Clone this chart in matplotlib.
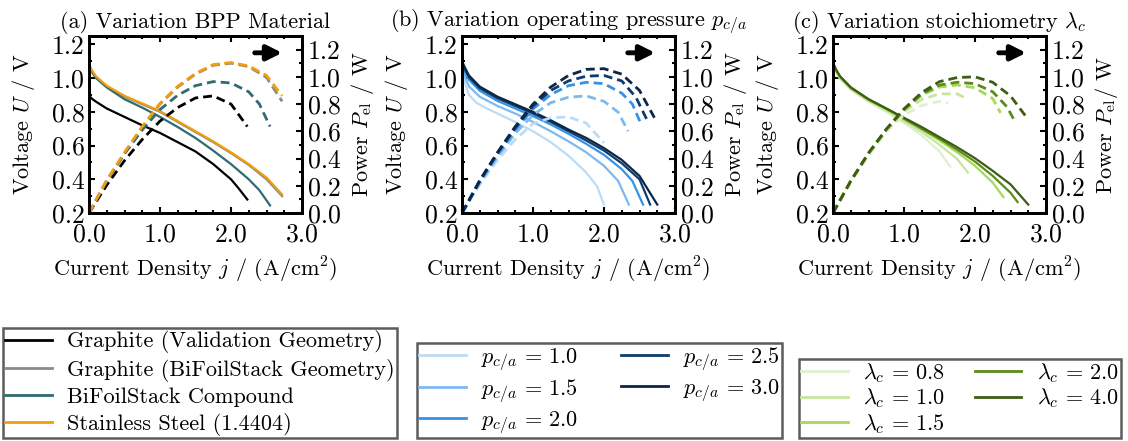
import numpy as np
import matplotlib
matplotlib.use("Agg")
import matplotlib.pyplot as plt
from matplotlib.ticker import MultipleLocator, FormatStrFormatter

plt.rcParams["font.family"] = "serif"
plt.rcParams["font.serif"] = ["cmr10", "DejaVu Serif"]
plt.rcParams["mathtext.fontset"] = "cm"
plt.rcParams["axes.formatter.use_mathtext"] = True

# ---- (a) BPP material ----
mat_labels = ["Graphite (Validation Geometry)", "Graphite (BiFoilStack Geometry)",
              "BiFoilStack Compound", "Stainless Steel (1.4404)"]
mat_colors = ["#000000", "#8a8a8a", "#2f6b70", "#f29e0c"]

j_gv = [0, 0.05, 0.1, 0.25, 0.5, 0.75, 1.0, 1.25, 1.5, 1.75, 2.0, 2.1, 2.23]
U_gv = [0.895, 0.875, 0.86, 0.82, 0.77, 0.72, 0.675, 0.62, 0.565, 0.49, 0.40, 0.35, 0.28]
jp_gv = [0, 0.25, 0.5, 0.75, 1.0, 1.25, 1.5, 1.75, 2.0, 2.23]
P_gv = [0, 0.205, 0.385, 0.54, 0.675, 0.775, 0.845, 0.86, 0.80, 0.635]

j_gb = [0, 0.05, 0.1, 0.25, 0.5, 0.75, 1.0, 1.25, 1.5, 1.75, 2.0, 2.25, 2.5, 2.72]
U_gb = [1.075, 1.035, 1.005, 0.95, 0.89, 0.845, 0.80, 0.74, 0.68, 0.62, 0.555, 0.485, 0.40, 0.30]
jp_gb = [0, 0.25, 0.5, 0.75, 1.0, 1.25, 1.5, 1.75, 2.0, 2.25, 2.5, 2.72]
P_gb = [0, 0.24, 0.44, 0.63, 0.80, 0.925, 1.02, 1.085, 1.10, 1.075, 0.995, 0.82]

j_bf = [0, 0.05, 0.1, 0.25, 0.5, 0.75, 1.0, 1.25, 1.5, 1.75, 2.0, 2.25, 2.4, 2.55]
U_bf = [1.07, 1.03, 1.0, 0.945, 0.875, 0.825, 0.77, 0.71, 0.645, 0.57, 0.49, 0.40, 0.335, 0.245]
jp_bf = [0, 0.25, 0.5, 0.75, 1.0, 1.25, 1.5, 1.75, 2.0, 2.25, 2.4, 2.55]
P_bf = [0, 0.235, 0.435, 0.61, 0.76, 0.865, 0.935, 0.965, 0.955, 0.89, 0.80, 0.635]

j_ss = [0, 0.05, 0.1, 0.25, 0.5, 0.75, 1.0, 1.25, 1.5, 1.75, 2.0, 2.25, 2.5, 2.72]
U_ss = [1.08, 1.04, 1.01, 0.955, 0.895, 0.85, 0.805, 0.745, 0.685, 0.625, 0.56, 0.49, 0.41, 0.31]
jp_ss = [0, 0.25, 0.5, 0.75, 1.0, 1.25, 1.5, 1.75, 2.0, 2.25, 2.5, 2.72]
P_ss = [0, 0.24, 0.445, 0.635, 0.805, 0.93, 1.025, 1.09, 1.105, 1.08, 1.01, 0.86]

# ---- (b) operating pressure ----
p_labels = [r"$p_{c/a} \,=\, 1.0$", r"$p_{c/a} \,=\, 1.5$", r"$p_{c/a} \,=\, 2.0$",
            r"$p_{c/a} \,=\, 2.5$", r"$p_{c/a} \,=\, 3.0$"]
p_colors = ["#bcdcf6", "#7db9ef", "#3592e6", "#0d3b6e", "#0a2748"]

j_p10 = [0, 0.05, 0.1, 0.2, 0.35, 0.5, 0.75, 1.0, 1.25, 1.5, 1.75, 1.9, 2.0]
U_p10 = [1.05, 0.96, 0.9, 0.855, 0.82, 0.79, 0.74, 0.685, 0.62, 0.54, 0.44, 0.36, 0.25]
jp_p10 = [0, 0.25, 0.5, 0.75, 1.0, 1.25, 1.5, 1.75, 2.0]
P_p10 = [0, 0.21, 0.39, 0.54, 0.655, 0.70, 0.705, 0.66, 0.515]

j_p15 = [0, 0.05, 0.1, 0.25, 0.5, 0.75, 1.0, 1.25, 1.5, 1.75, 2.0, 2.2, 2.35]
U_p15 = [1.07, 1.0, 0.95, 0.89, 0.835, 0.79, 0.74, 0.685, 0.625, 0.56, 0.48, 0.39, 0.25]
jp_p15 = [0, 0.25, 0.5, 0.75, 1.0, 1.25, 1.5, 1.75, 2.0, 2.2, 2.34]
P_p15 = [0, 0.22, 0.415, 0.585, 0.72, 0.81, 0.85, 0.86, 0.82, 0.74, 0.60]

j_p20 = [0, 0.05, 0.1, 0.25, 0.5, 0.75, 1.0, 1.25, 1.5, 1.75, 2.0, 2.25, 2.4, 2.55]
U_p20 = [1.08, 1.03, 0.99, 0.925, 0.865, 0.82, 0.775, 0.725, 0.67, 0.61, 0.545, 0.46, 0.39, 0.25]
jp_p20 = [0, 0.25, 0.5, 0.75, 1.0, 1.25, 1.5, 1.75, 2.0, 2.25, 2.4, 2.52]
P_p20 = [0, 0.23, 0.43, 0.61, 0.765, 0.87, 0.935, 0.96, 0.95, 0.88, 0.80, 0.655]

j_p25 = [0, 0.05, 0.1, 0.25, 0.5, 0.75, 1.0, 1.25, 1.5, 1.75, 2.0, 2.25, 2.5, 2.65]
U_p25 = [1.09, 1.045, 1.005, 0.94, 0.88, 0.835, 0.79, 0.74, 0.685, 0.63, 0.57, 0.495, 0.40, 0.25]
jp_p25 = [0, 0.25, 0.5, 0.75, 1.0, 1.25, 1.5, 1.75, 2.0, 2.25, 2.45, 2.6]
P_p25 = [0, 0.235, 0.44, 0.625, 0.785, 0.90, 0.97, 1.005, 1.01, 0.97, 0.85, 0.69]

j_p30 = [0, 0.05, 0.1, 0.25, 0.5, 0.75, 1.0, 1.25, 1.5, 1.75, 2.0, 2.25, 2.5, 2.75]
U_p30 = [1.10, 1.055, 1.015, 0.95, 0.89, 0.845, 0.80, 0.75, 0.695, 0.645, 0.585, 0.515, 0.42, 0.25]
jp_p30 = [0, 0.25, 0.5, 0.75, 1.0, 1.25, 1.5, 1.75, 2.0, 2.25, 2.5, 2.71]
P_p30 = [0, 0.24, 0.445, 0.635, 0.80, 0.925, 1.01, 1.055, 1.06, 1.02, 0.90, 0.70]

# ---- (c) stoichiometry ----
l_labels = [r"$\lambda_c \,=\, 0.8$", r"$\lambda_c \,=\, 1.0$", r"$\lambda_c \,=\, 1.5$",
            r"$\lambda_c \,=\, 2.0$", r"$\lambda_c \,=\, 4.0$"]
l_colors = ["#e0efcf", "#c6e59e", "#a6d95a", "#5b8c1a", "#3d5c15"]

j_l08 = [0, 0.05, 0.1, 0.25, 0.5, 0.75, 1.0, 1.25, 1.5, 1.65]
U_l08 = [1.08, 1.03, 0.995, 0.93, 0.86, 0.80, 0.735, 0.66, 0.565, 0.475]
jp_l08 = [0, 0.25, 0.5, 0.75, 1.0, 1.25, 1.5, 1.62]
P_l08 = [0, 0.23, 0.42, 0.595, 0.72, 0.79, 0.82, 0.81]

j_l10 = [0, 0.05, 0.1, 0.25, 0.5, 0.75, 1.0, 1.25, 1.5, 1.75, 1.9]
U_l10 = [1.085, 1.035, 1.0, 0.935, 0.865, 0.81, 0.745, 0.68, 0.605, 0.52, 0.44]
jp_l10 = [0, 0.25, 0.5, 0.75, 1.0, 1.25, 1.5, 1.75, 1.88]
P_l10 = [0, 0.235, 0.43, 0.605, 0.745, 0.835, 0.875, 0.875, 0.84]

j_l15 = [0, 0.05, 0.1, 0.25, 0.5, 0.75, 1.0, 1.25, 1.5, 1.75, 2.0, 2.25, 2.4]
U_l15 = [1.09, 1.04, 1.005, 0.94, 0.87, 0.815, 0.755, 0.695, 0.63, 0.56, 0.48, 0.38, 0.295]
jp_l15 = [0, 0.25, 0.5, 0.75, 1.0, 1.25, 1.5, 1.75, 2.0, 2.25, 2.36]
P_l15 = [0, 0.235, 0.435, 0.61, 0.755, 0.865, 0.925, 0.94, 0.92, 0.84, 0.735]

j_l20 = [0, 0.05, 0.1, 0.25, 0.5, 0.75, 1.0, 1.25, 1.5, 1.75, 2.0, 2.25, 2.5, 2.6]
U_l20 = [1.09, 1.045, 1.01, 0.945, 0.875, 0.82, 0.76, 0.70, 0.64, 0.575, 0.505, 0.42, 0.32, 0.265]
jp_l20 = [0, 0.25, 0.5, 0.75, 1.0, 1.25, 1.5, 1.75, 2.0, 2.25, 2.45, 2.57]
P_l20 = [0, 0.235, 0.44, 0.615, 0.76, 0.875, 0.94, 0.96, 0.95, 0.89, 0.78, 0.665]

j_l40 = [0, 0.05, 0.1, 0.25, 0.5, 0.75, 1.0, 1.25, 1.5, 1.75, 2.0, 2.25, 2.5, 2.75]
U_l40 = [1.09, 1.045, 1.01, 0.945, 0.875, 0.82, 0.765, 0.71, 0.65, 0.59, 0.525, 0.45, 0.37, 0.25]
jp_l40 = [0, 0.25, 0.5, 0.75, 1.0, 1.25, 1.5, 1.75, 2.0, 2.25, 2.5, 2.73]
P_l40 = [0, 0.235, 0.44, 0.615, 0.765, 0.885, 0.965, 0.995, 1.0, 0.96, 0.86, 0.70]

panels = [
    ("(a) Variation BPP Material", r"Power $P_\mathrm{el}$ / W", mat_labels, mat_colors,
     [(j_gv, U_gv, jp_gv, P_gv), (j_gb, U_gb, jp_gb, P_gb),
      (j_bf, U_bf, jp_bf, P_bf), (j_ss, U_ss, jp_ss, P_ss)]),
    (r"(b) Variation operating pressure $p_{c/a}$", r"Power $P_\mathrm{el}$ / W", p_labels, p_colors,
     [(j_p10, U_p10, jp_p10, P_p10), (j_p15, U_p15, jp_p15, P_p15), (j_p20, U_p20, jp_p20, P_p20),
      (j_p25, U_p25, jp_p25, P_p25), (j_p30, U_p30, jp_p30, P_p30)]),
    (r"(c) Variation stoichiometry $\lambda_c$", r"Power $P_\mathrm{el}$/ W", l_labels, l_colors,
     [(j_l08, U_l08, jp_l08, P_l08), (j_l10, U_l10, jp_l10, P_l10), (j_l15, U_l15, jp_l15, P_l15),
      (j_l20, U_l20, jp_l20, P_l20), (j_l40, U_l40, jp_l40, P_l40)]),
]

fig = plt.figure(figsize=(11.28, 4.41), dpi=100)
lefts = [89 / 1128, 462 / 1128, 833 / 1128]
leg_x = [3 / 1128, 417 / 1128, 799 / 1128]
leg_cols = [1, 2, 2]
col_space = [1.9, 1.9, 1.3]
row_space = [0.25, 0.2, 0.08]

for k, (title, plabel, labels, colors, curves) in enumerate(panels):
    ax = fig.add_axes([lefts[k], 228 / 441, 213 / 1128, 177 / 441])
    ax2 = ax.twinx()
    for (jj, uu, jpp, pp), lab, col in zip(curves, labels, colors):
        ax.plot(jj, uu, color=col, lw=1.6, label=lab)
        ax2.plot(jpp, pp, color=col, lw=2.0, ls=(0, (3.2, 1.8)))
    ax.set_xlim(0, 3.0)
    ax.set_ylim(0.2, 1.25)
    ax2.set_ylim(0, 1.3)
    ax.set_title(title, fontsize=16, pad=6)
    ax.set_xlabel(r"Current Density $j$ / (A/cm$^2$)", fontsize=16, labelpad=6)
    ax.set_ylabel(r"Voltage $U$ / V", fontsize=16, labelpad=11)
    ax2.set_ylabel(plabel, fontsize=16, labelpad=6)
    ax.xaxis.set_major_locator(MultipleLocator(1.0))
    ax.xaxis.set_minor_locator(MultipleLocator(0.25))
    ax.yaxis.set_major_locator(MultipleLocator(0.2))
    ax.yaxis.set_minor_locator(MultipleLocator(0.1))
    ax2.yaxis.set_major_locator(MultipleLocator(0.2))
    ax2.yaxis.set_minor_locator(MultipleLocator(0.1))
    for a in (ax, ax2):
        a.xaxis.set_major_formatter(FormatStrFormatter("%.1f"))
        a.yaxis.set_major_formatter(FormatStrFormatter("%.1f"))
        a.tick_params(which="both", direction="in", width=1.5, labelsize=18.5)
        a.tick_params(which="major", length=4.5)
        a.tick_params(which="minor", length=2.5)
        for s in a.spines.values():
            s.set_linewidth(2.0)
    ax.tick_params(which="both", top=True, right=False)
    ax.tick_params(axis="x", pad=7)
    ax.tick_params(axis="y", pad=3)
    ax2.tick_params(axis="y", pad=4)
    ax.annotate("", xy=(0.92, 0.905), xytext=(0.765, 0.905), xycoords="axes fraction",
                arrowprops=dict(arrowstyle="-|>,head_width=0.45,head_length=0.9",
                                lw=3.5, color="k"))
    h, l = ax.get_legend_handles_labels()
    leg = fig.legend(h, l, loc="lower left", bbox_to_anchor=(leg_x[k], 0.007),
                     ncol=leg_cols[k], fontsize=16, frameon=True, fancybox=False,
                     borderaxespad=0, borderpad=0.1, labelspacing=row_space[k],
                     handlelength=2.1, handletextpad=0.7, columnspacing=col_space[k])
    leg.get_frame().set_edgecolor("#333333")
    leg.get_frame().set_linewidth(1.8)
    for line in leg.get_lines():
        line.set_linewidth(2.0)

fig.savefig("out.png", dpi=100)
